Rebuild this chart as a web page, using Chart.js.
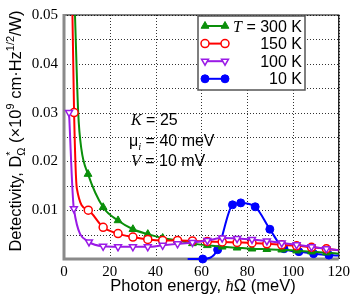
<!DOCTYPE html>
<html>
<head>
<meta charset="utf-8">
<script src="https://cdn.jsdelivr.net/npm/chart.js@4.4.1/dist/chart.umd.min.js"></script>
<style>
  body { margin: 0; background: #fff; }
  canvas { display: block; }
</style>
</head>
<body>
<canvas id="detectivity" width="354" height="298"></canvas>
<script>
// photon energy (meV) and detectivity (x10^9 cm Hz^1/2 / W)
var e300 = [4.8, 6.2, 7.6, 10.5, 17.1, 23.6, 30.1, 36.6, 43.1, 49.6, 56.1, 62.6, 69.1, 75.6, 82.1, 88.6, 95.1, 101.6, 108.1, 114.6, 120];
var d300 = [0.050, 0.030, 0.0225, 0.0174, 0.0106, 0.0079, 0.0061, 0.0051, 0.0043, 0.0038, 0.0032, 0.0028, 0.0025, 0.0023, 0.0021, 0.0020, 0.0019, 0.0017, 0.0015, 0.0013, 0.0011];

var e150 = [2.5, 4.4, 5.6, 10.6, 17.1, 23.6, 30.1, 36.6, 43.1, 49.6, 56.1, 62.6, 69.1, 75.6, 82.1, 88.6, 95.1, 101.6, 108.1, 114.6, 120];
var d150 = [0.085, 0.030, 0.0145, 0.0100, 0.0065, 0.0052, 0.0045, 0.0040, 0.0038, 0.0038, 0.0037, 0.0036, 0.0035, 0.0034, 0.0033, 0.0031, 0.0029, 0.0027, 0.0024, 0.0021, 0.0018];

var e100 = [2.2, 4.3, 10.9, 17.1, 23.6, 30.1, 36.6, 43.1, 49.6, 56.1, 62.6, 69.1, 75.6, 82.1, 88.6, 95.1, 101.6, 108.1, 114.6, 120];
var d100 = [0.030, 0.0103, 0.0035, 0.0026, 0.0025, 0.0025, 0.0025, 0.0028, 0.0031, 0.0034, 0.0038, 0.0043, 0.0042, 0.0040, 0.0037, 0.0033, 0.0029, 0.0025, 0.0021, 0.0018];

var e10 = [54.0, 60.6, 67.1, 73.6, 77.2, 83.5, 89.9, 96.1, 102.6, 109.0, 115.7, 120];
var d10 = [0.0, 0.0, 0.0019, 0.0111, 0.0115, 0.0107, 0.0061, 0.0021, 0.0015, 0.0011, 0.0008, 0.0007];

// curve points that carry no marker in the figure
var unmarked300 = [4.8, 6.2, 7.6, 120];
var unmarked150 = [5.6, 120];
var unmarked100 = [120];
var unmarked10 = [54.0, 120];

var seriesLabels = ["300 K", "150 K", "100 K", "10 K"];
var xTicks = [0, 20, 40, 60, 80, 100, 120];
var yTicks = [0.01, 0.02, 0.03, 0.04, 0.05];

var green = "#0a8f0a", red = "#ff0000", purple = "#9a1ae6", blue = "#0000ff";

function pts(xs, ys) {
  return xs.map(function (x, i) { return {x: x, y: ys[i]}; });
}
function radius(r, skip) {
  return function (ctx) {
    return skip.indexOf(ctx.raw.x) >= 0 ? 0 : r;
  };
}

var sets = [
  {label: seriesLabels[2], data: pts(e100, d100), borderColor: purple, backgroundColor: "#fff",
   pointStyle: "triangle", rotation: 180, pointRadius: radius(4, unmarked100), pointBorderWidth: 1.5},
  {label: seriesLabels[1], data: pts(e150, d150), borderColor: red, backgroundColor: "#fff",
   pointStyle: "circle", pointRadius: radius(4, unmarked150), pointBorderWidth: 1.5},
  {label: seriesLabels[0], data: pts(e300, d300), borderColor: green, backgroundColor: green,
   pointStyle: "triangle", pointRadius: radius(4.5, unmarked300), pointBorderWidth: 1},
  {label: seriesLabels[3], data: pts(e10, d10), borderColor: blue, backgroundColor: blue,
   pointStyle: "circle", pointRadius: radius(4, unmarked10), pointBorderWidth: 1}
];
sets.forEach(function (s) {
  s.borderWidth = 2;
  s.cubicInterpolationMode = "monotone";
  s.clip = {left: 0, top: 0, right: 0, bottom: 6};
  s.pointHoverRadius = 0;
});

// draws a run of text pieces; each piece may be italic / serif / raised / lowered
function richText(ctx, parts, x, y, size, align) {
  function fontOf(p) {
    var sz = p.small ? size * 0.66 : size;
    var fam = p.serif ? "'Liberation Serif'" : "'Liberation Sans'";
    return (p.italic ? "italic " : "") + sz + "px " + fam;
  }
  var w = 0;
  parts.forEach(function (p) {
    ctx.font = fontOf(p);
    p.w = ctx.measureText(p.t).width;
    if (!p.stack) w += p.w;
  });
  var cx = align === "center" ? x - w / 2 : (align === "right" ? x - w : x);
  parts.forEach(function (p) {
    ctx.font = fontOf(p);
    var dy = p.up ? -size * 0.42 : (p.down ? size * 0.25 : 0);
    ctx.fillText(p.t, cx, y + dy);
    if (!p.stack) cx += p.w;
  });
}

var decor = {
  id: "decor",
  beforeDatasetsDraw: function (chart) {
    var a = chart.chartArea, ctx = chart.ctx;
    var xs = chart.scales.x, ys = chart.scales.y;
    ctx.save();
    // dotted grid
    ctx.strokeStyle = "#333";
    ctx.lineWidth = 1;
    ctx.setLineDash([1, 2]);
    ctx.beginPath();
    xs.ticks.forEach(function (t) {
      var px = Math.round(xs.getPixelForValue(t.value)) + 0.5;
      ctx.moveTo(px, a.top); ctx.lineTo(px, a.bottom);
    });
    ys.ticks.forEach(function (t) {
      var py = Math.round(ys.getPixelForValue(t.value)) + 0.5;
      ctx.moveTo(a.left, py); ctx.lineTo(a.right, py);
    });
    ctx.stroke();
    ctx.setLineDash([]);
    // frame
    ctx.strokeStyle = "#000";
    ctx.lineWidth = 1.2;
    ctx.beginPath();
    ctx.moveTo(a.left, a.top); ctx.lineTo(a.right, a.top); ctx.lineTo(a.right, a.bottom);
    ctx.stroke();
    ctx.strokeStyle = "#8a8a8a";
    ctx.lineWidth = 3;
    ctx.beginPath();
    ctx.moveTo(a.left, a.top - 1); ctx.lineTo(a.left, a.bottom); ctx.lineTo(a.right, a.bottom);
    ctx.stroke();
    ctx.restore();
  },
  afterDraw: function (chart) {
    var ctx = chart.ctx;
    ctx.save();
    ctx.fillStyle = "#000";
    ctx.textBaseline = "alphabetic";

    // axis titles
    richText(ctx, [{t: "Photon energy, "}, {t: "ħ", italic: true, serif: true}, {t: "Ω (meV)"}], 203, 291, 16.5, "center");
    ctx.save();
    ctx.translate(21, 131);
    ctx.rotate(-Math.PI / 2);
    richText(ctx, [
      {t: "Detectivity, D"}, {t: "*", small: true, up: true, stack: true}, {t: "Ω", small: true, down: true},
      {t: " (×10"}, {t: "9", small: true, up: true}, {t: " cm·Hz"}, {t: "1/2", small: true, up: true}, {t: "/W)"}
    ], 0, 0, 16.5, "center");
    ctx.restore();

    // parameters
    richText(ctx, [{t: "K", italic: true, serif: true}, {t: " = 25"}], 131, 125, 16, "left");
    richText(ctx, [{t: "μ"}, {t: "i", italic: true, serif: true, small: true, down: true}, {t: " = 40 meV"}], 129, 146, 16, "left");
    richText(ctx, [{t: "V", italic: true, serif: true}, {t: " = 10 mV"}], 131, 166, 16, "left");

    // legend box
    ctx.fillStyle = "#fff";
    ctx.fillRect(198, 16, 107, 74);
    ctx.strokeStyle = "#555";
    ctx.lineWidth = 1.5;
    ctx.strokeRect(198, 16, 107, 74);
    var order = [2, 1, 0, 3];
    order.forEach(function (di, row) {
      var s = sets[di], y = 26 + row * 17.6;
      ctx.strokeStyle = s.borderColor;
      ctx.lineWidth = 2;
      ctx.beginPath(); ctx.moveTo(205, y); ctx.lineTo(225, y); ctx.stroke();
      [205, 225].forEach(function (px) {
        ctx.fillStyle = s.backgroundColor;
        ctx.lineWidth = s.pointBorderWidth;
        Chart.helpers.drawPoint(ctx, {pointStyle: s.pointStyle, rotation: s.rotation || 0,
          radius: row === 0 ? 4.5 : 4, borderWidth: s.pointBorderWidth}, px, y);
      });
      ctx.fillStyle = "#000";
      var parts = row === 0 ? [{t: "T", italic: true, serif: true}, {t: " = " + s.label}] : [{t: s.label}];
      richText(ctx, parts, 302, y + 5.5, 16, "right");
    });
    ctx.restore();
  }
};

new Chart("detectivity", {
  type: "line",
  data: {datasets: sets},
  plugins: [decor],
  options: {
    responsive: false,
    animation: false,
    events: [],
    layout: {padding: {top: 7, right: 14, left: 0, bottom: 0}},
    plugins: {legend: {display: false}, tooltip: {enabled: false}},
    scales: {
      x: {
        type: "linear", min: 0, max: 120,
        afterFit: function (s) { s.height = 39; },
        border: {display: false},
        grid: {display: false, drawTicks: false},
        ticks: {
          stepSize: 10, padding: 4, color: "#000", maxRotation: 0,
          font: {family: "'Liberation Serif'", size: 15},
          callback: function (v) { return xTicks.indexOf(v) >= 0 ? String(v) : ""; }
        }
      },
      y: {
        type: "linear", min: 0, max: 0.05,
        afterFit: function (s) { s.width = 64; },
        border: {display: false},
        grid: {display: false, drawTicks: false},
        ticks: {
          stepSize: 0.005, padding: 6, color: "#000",
          font: {family: "'Liberation Serif'", size: 15},
          callback: function (v) {
            var hit = yTicks.filter(function (t) { return Math.abs(t - v) < 1e-9; });
            return hit.length ? hit[0].toFixed(2) : "";
          }
        }
      }
    }
  }
});
</script>
</body>
</html>
